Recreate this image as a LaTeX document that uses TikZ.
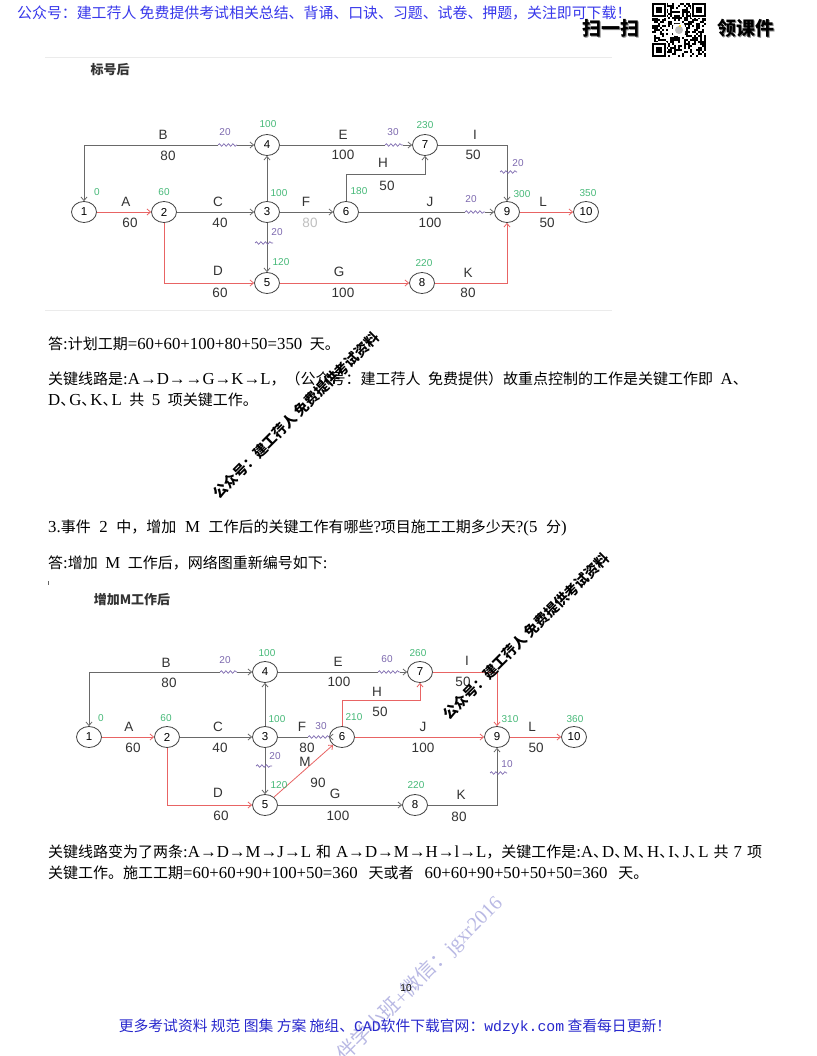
\documentclass[tikz,border=0pt]{standalone}
\usepackage{fontspec}
\setmainfont{Liberation Serif}
\setsansfont{Liberation Sans}
\setmonofont{Liberation Mono}
\newfontfamily\cjk{Noto Sans CJK SC}
\usetikzlibrary{arrows.meta,positioning,shapes.geometric,decorations.pathmorphing}
\definecolor{hdblue}{RGB}{55,55,235}
\definecolor{ftblue}{RGB}{40,40,205}
\definecolor{lnGray}{RGB}{105,105,105}
\definecolor{critRed}{RGB}{232,100,100}
\definecolor{etGreen}{RGB}{70,185,120}
\definecolor{flPurple}{RGB}{125,105,175}
\definecolor{wmBlue}{RGB}{185,185,228}
\newcommand\la[1]{{\rmfamily\fontsize{16.8}{16.8}\selectfont#1}}
\newcommand\widesp{\spaceskip=7.5pt\relax}
\newcommand\dn{\makebox[9pt][l]{、}}
\tikzset{
  event/.style={ellipse,draw=black!75,line width=0.8pt,minimum width=25pt,
    minimum height=21pt,inner sep=0pt,fill=white,
    font=\sffamily\fontsize{11.5}{11.5}\selectfont},
  work/.style={draw=lnGray,line width=0.8pt,
    >={Straight Barb[length=3.5pt,width=6pt]},->},
  crit/.style={work,draw=critRed},
  wave/.style={draw=flPurple,line width=0.7pt,decorate,
    decoration={snake,amplitude=1.3pt,segment length=4.5pt}},
  lbl/.style={font=\sffamily\fontsize{13.5}{13.5}\selectfont,text=black!80,inner sep=0pt},
  etime/.style={font=\sffamily\fontsize{10}{10}\selectfont,text=etGreen,inner sep=0pt},
  ftime/.style={font=\sffamily\fontsize{10}{10}\selectfont,text=flPurple,inner sep=0pt},
  body/.style={anchor=west,inner sep=0pt,
    font=\cjk\fontsize{15}{15}\selectfont,execute at begin node=\widesp},
  caption/.style={inner sep=0pt,font=\cjk\bfseries\fontsize{13}{13}\selectfont,text=black!80},
  wmark/.style={inner sep=0pt,font=\cjk\bfseries\fontsize{14}{14}\selectfont},
}

\begin{document}
\begin{tikzpicture}[x=1pt,y=-1pt]
\useasboundingbox[fill=white] (0,0) rectangle (816,1056);

% header
\node[anchor=west,inner sep=0pt,text=hdblue,font=\cjk\fontsize{14.9}{14.9}\selectfont] (head) at (17,13)
  {公众号：建工荇人 免费提供考试相关总结、背诵、口诀、习题、试卷、押题，关注即可下载！};
\node[inner sep=0pt,text=black!45,font=\cjk\bfseries\fontsize{19}{19}\selectfont] at (612.2,29.2) {扫一扫};
\node[inner sep=0pt,font=\cjk\bfseries\fontsize{19}{19}\selectfont] (scan) at (611,28) {扫一扫};
\node[inner sep=0pt,text=black!45,font=\cjk\bfseries\fontsize{19}{19}\selectfont] at (747.2,29.2) {领课件};
\node[inner sep=0pt,font=\cjk\bfseries\fontsize{19}{19}\selectfont] (take) at (746,28) {领课件};
% qr code
\begin{scope}[shift={(652,3)}]
  \pgfmathsetseed{11}
  \foreach \i in {0,...,26}{\foreach \j in {0,...,26}{
    \pgfmathtruncatemacro\qb{rnd<0.48?1:0}
    \ifnum\qb=1 \fill (2*\i,2*\j) rectangle ++(2,2);\fi}}
  \foreach \fx/\fy in {0/0,40/0,0/40}{
    \fill[white] (\fx-1,\fy-1) rectangle ++(16,16);
    \fill (\fx,\fy) rectangle ++(14,14);
    \fill[white] (\fx+2,\fy+2) rectangle ++(10,10);
    \fill (\fx+4,\fy+4) rectangle ++(6,6);}
  \fill[white,rounded corners=2pt] (21,21) rectangle (33,33);
  \fill[black!25] (27,27) circle (4);
  \fill[yellow!70!orange] (28,23) circle (1.2);
\end{scope}

% ---------------- network 1
\draw[black!8] (45,57) -- (612,57);
\draw[black!8] (45,310) -- (612,310);
\node[caption] (cap1) at (110,70) {标号后};

\node[event] (a1) at (84,212) {1};
\node[event] (a2) at (164,212) {2};
\node[event] (a3) at (267,212) {3};
\node[event] (a4) at (267,145) {4};
\node[event] (a5) at (267,283) {5};
\node[event] (a6) at (346,212) {6};
\node[event] (a7) at (425,145) {7};
\node[event] (a8) at (422,283) {8};
\node[event] (a9) at (507,212) {9};
\node[event] (a10) at (586,212) {10};

\coordinate (aB) at (84,145);
\coordinate (aBw) at (218,145);
\coordinate (aBv) at (237,145);
\coordinate (aEw) at (385,145);
\coordinate (aEv) at (403,145);
\coordinate (aJw) at (465,212);
\coordinate (aJv) at (485,212);
\coordinate (aH) at (346,174);

\draw[work,<-] (a1) -- (aB) -- (aBw);
\draw[wave] (aBw) -- (aBv);
\draw[work] (aBv) -- (a4);
\draw[crit] (a1) -- (a2);
\draw[work] (a2) -- (a3);
\draw[work] (a3) -- (a4);
\draw[work] (a3) -- (a5);
\draw[wave] (255,243) -- (273,243);
\draw[crit] (a2) |- (a5);
\draw[work] (a3) -- (a6);
\draw[work] (a6) -- (aH) -| (a7);
\draw[work,-] (a4) -- (aEw);
\draw[wave] (aEw) -- (aEv);
\draw[work] (aEv) -- (a7);
\draw[work] (a7) -| (a9);
\draw[wave] (500,172) -- (517,172);
\draw[work,-] (a6) -- (aJw);
\draw[wave] (aJw) -- (aJv);
\draw[work] (aJv) -- (a9);
\draw[crit] (a5) -- (a8);
\draw[crit] (a8) -| (a9);
\draw[crit] (a9) -- (a10);

\node[lbl] at (163,135) {B};   \node[lbl] at (168,156) {80};
\node[lbl] at (126,202) {A};   \node[lbl] at (130,223) {60};
\node[lbl] at (218,202) {C};   \node[lbl] at (220,223) {40};
\node[lbl] at (218,271) {D};   \node[lbl] at (220,293) {60};
\node[lbl] at (343,135) {E};   \node[lbl] at (343,155) {100};
\node[lbl] at (306,202) {F};   \node[lbl,text=black!25] at (310,223) {80};
\node[lbl] at (383,163) {H};   \node[lbl] at (387,186) {50};
\node[lbl] at (475,135) {I};   \node[lbl] at (473,155) {50};
\node[lbl] at (430,202) {J};   \node[lbl] at (430,223) {100};
\node[lbl] at (339,272) {G};   \node[lbl] at (343,293) {100};
\node[lbl] at (468,273) {K};   \node[lbl] at (468,293) {80};
\node[lbl] at (543,202) {L};   \node[lbl] at (547,223) {50};

\node[etime] at (97,192) {0};
\node[etime] at (164,192) {60};
\node[etime] at (268,124) {100};
\node[etime] at (279,193) {100};
\node[etime] at (281,262) {120};
\node[etime] at (359,191) {180};
\node[etime] at (425,125) {230};
\node[etime] at (424,263) {220};
\node[etime] at (522,194) {300};
\node[etime] at (588,193) {350};

\node[ftime] at (225,132) {20};
\node[ftime] at (277,232) {20};
\node[ftime] at (393,132) {30};
\node[ftime] at (518,163) {20};
\node[ftime] at (471,199) {20};

% ---------------- answer text
\node[body] (t1) at (48,344) {答\la{:}计划工期\la{=60+60+100+80+50=350 }天。};
\node[body] (t2) at (48,379) {关键线路是\la{:A→D→→G→K→L}，（公众号：建工荇人 免费提供）故重点控制的工作是关键工作即\la{ A}、};
\node[body] (t3) at (48,400) {\la{D}\dn\la{G}\dn\la{K}\dn\la{L }共\la{ 5 }项关键工作。};
\node[body] (t4) at (48,528) {\spaceskip=8.6pt\relax\la{3.}事件\la{ 2 }中，增加\la{ M }工作后的关键工作有哪些\la{?}项目施工工期多少天\la{?(5 }分\la{)}};
\node[body] (t5) at (48,563) {答\la{:}增加\la{ M }工作后，网络图重新编号如下\la{:}};
\fill[black!60] (48,581) rectangle (49,585);

% ---------------- network 2
\node[caption] (cap2) at (132,600) {增加M工作后};

\node[event] (b1) at (89,737) {1};
\node[event] (b2) at (167,737) {2};
\node[event] (b3) at (265,737) {3};
\node[event] (b4) at (265,672) {4};
\node[event] (b5) at (265,805) {5};
\node[event] (b6) at (342,737) {6};
\node[event] (b7) at (420,672) {7};
\node[event] (b8) at (415,805) {8};
\node[event] (b9) at (497,737) {9};
\node[event] (b10) at (574,737) {10};

\coordinate (bB) at (89,672);
\coordinate (bBw) at (220,672);
\coordinate (bBv) at (237,672);
\coordinate (bEw) at (378,672);
\coordinate (bEv) at (400,672);
\coordinate (bFw) at (308,737);
\coordinate (bFv) at (330,737);
\coordinate (bH) at (342,700);

\draw[work,<-] (b1) -- (bB) -- (bBw);
\draw[wave] (bBw) -- (bBv);
\draw[work] (bBv) -- (b4);
\draw[crit] (b1) -- (b2);
\draw[work] (b2) -- (b3);
\draw[work] (b3) -- (b4);
\draw[work] (b3) -- (b5);
\draw[wave] (256,766) -- (272,766);
\draw[crit] (b2) |- (b5);
\draw[work,-] (b3) -- (bFw);
\draw[wave] (bFw) -- (bFv);
\draw[work] (bFv) -- (b6);
\draw[crit] (b5) -- (b6);
\draw[crit] (b6) -- (bH) -| (b7);
\draw[work,-] (b4) -- (bEw);
\draw[wave] (bEw) -- (bEv);
\draw[work] (bEv) -- (b7);
\draw[crit] (b7) -| (b9);
\draw[crit] (b6) -- (b9);
\draw[work] (b5) -- (b8);
\draw[work] (b8) -| (b9);
\draw[wave] (490,773) -- (507,773);
\draw[crit] (b9) -- (b10);

\node[lbl] at (166,663) {B};   \node[lbl] at (169,683) {80};
\node[lbl] at (129,727) {A};   \node[lbl] at (133,748) {60};
\node[lbl] at (218,727) {C};   \node[lbl] at (220,748) {40};
\node[lbl] at (218,793) {D};   \node[lbl] at (221,816) {60};
\node[lbl] at (338,662) {E};   \node[lbl] at (339,682) {100};
\node[lbl] at (302,727) {F};   \node[lbl] at (307,748) {80};
\node[lbl] at (305,762) {M};   \node[lbl] at (318,783) {90};
\node[lbl] at (377,692) {H};   \node[lbl] at (380,712) {50};
\node[lbl] at (467,661) {I};   \node[lbl] at (463,682) {50};
\node[lbl] at (423,727) {J};   \node[lbl] at (423,748) {100};
\node[lbl] at (335,794) {G};   \node[lbl] at (338,816) {100};
\node[lbl] at (461,795) {K};   \node[lbl] at (459,817) {80};
\node[lbl] at (532,727) {L};   \node[lbl] at (536,748) {50};

\node[etime] at (101,718) {0};
\node[etime] at (166,718) {60};
\node[etime] at (267,653) {100};
\node[etime] at (277,719) {100};
\node[etime] at (279,785) {120};
\node[etime] at (354,717) {210};
\node[etime] at (418,653) {260};
\node[etime] at (416,785) {220};
\node[etime] at (510,719) {310};
\node[etime] at (575,719) {360};

\node[ftime] at (225,660) {20};
\node[ftime] at (275,756) {20};
\node[ftime] at (321,726) {30};
\node[ftime] at (387,659) {60};
\node[ftime] at (507,764) {10};

% ---------------- closing text
\node[body] (t6) at (48,852) {\spaceskip=5pt\relax 关键线路变为了两条\la{:A→D→M→J→L }和\la{ A→D→M→H→l→L}，关键工作是\la{:A}\dn\la{D}\dn\la{M}\dn\la{H}\dn\la{I}\dn\la{J}\dn\la{L }共\la{ 7 }项};
\node[body] (t7) at (48,873) {\spaceskip=11pt\relax 关键工作。施工工期\la{=60+60+90+100+50=360 }天或者\la{ 60+60+90+50+50+50=360 }天。};

% watermarks
\node[wmark,rotate=45] (wm1) at (296,415) {公众号：建工荇人 免费提供考试资料};
\node[wmark,rotate=45] (wm2) at (526,636) {公众号：建工荇人 免费提供考试资料};
\node[anchor=east,inner sep=0pt,rotate=45,text=wmBlue,font=\cjk\fontsize{20}{20}\selectfont] (wm3) at (499,900) {伴学小班{\rmfamily +}微信：\rmfamily jgxr2016};

% footer
\node[inner sep=0pt,font=\sffamily\fontsize{10}{10}\selectfont] (page) at (406,988) {10};
\node[inner sep=0pt,text=ftblue,font=\cjk\fontsize{14.8}{14.8}\selectfont] (foot) at (395,1027)
  {更多考试资料 规范 图集 方案 施组、\texttt{CAD}软件下载官网：\texttt{wdzyk.com} 查看每日更新！};
\end{tikzpicture}
\end{document}
